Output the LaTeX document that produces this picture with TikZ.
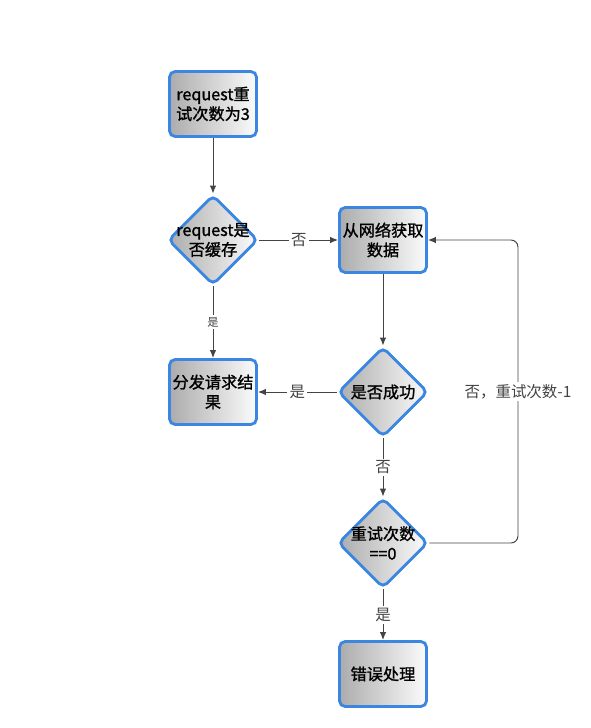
\documentclass[tikz,border=0pt]{standalone}
\usepackage{fontspec}
\setmainfont{Noto Sans CJK SC}
\newfontfamily\heavycjk[FakeBold=1.2]{Noto Sans CJK SC}
\usetikzlibrary{shapes.geometric,arrows.meta}
\definecolor{edgeblue}{HTML}{3A86E0}
\definecolor{linegray}{HTML}{444444}
\tikzset{
  stepbox/.style={rectangle,rounded corners=4pt,draw=edgeblue,line width=2pt,
    left color=gray!65,right color=gray!3,minimum width=2.175cm,minimum height=1.625cm,
    align=center,inner sep=1pt,font=\heavycjk\fontsize{11.5}{14}\selectfont},
  choice/.style={diamond,aspect=1,rounded corners=4pt,draw=edgeblue,line width=2pt,
    left color=gray!65,right color=gray!3,minimum width=2.25cm,minimum height=2.25cm,inner sep=0pt},
  flow/.style={linegray,line width=0.7pt,-{Latex[length=2mm,width=1.6mm]}},
  tag/.style={fill=white,inner sep=1.5pt,font=\fontsize{11}{13}\selectfont},
  dtext/.style={align=center,font=\heavycjk\fontsize{11.5}{14}\selectfont}
}
\begin{document}
\begin{tikzpicture}
\useasboundingbox[fill=white] (0,0) rectangle (14.775,18.2);
\node[stepbox] (init) at (5.325,15.6) {request重\\试次数为3};
\node[choice,label={[dtext]center:request是\\否缓存}] (cache) at (5.325,12.2) {};
\node[stepbox] (fetch) at (9.575,12.2) {从网络获取\\数据};
\node[stepbox] (result) at (5.325,8.4) {分发请求结\\果};
\node[choice,label={[dtext]center:是否成功}] (ok) at (9.575,8.4) {};
\node[choice,label={[dtext]center:重试次数\\==0}] (retry) at (9.575,4.625) {};
\node[stepbox] (fail) at (9.575,1.35) {错误处理};
% connectors
\draw[flow] (init) -- (cache);
\draw[flow] (cache) -- node[tag] {否} (fetch);
\draw[flow] (cache) -- node[tag,font=\fontsize{8}{9}\selectfont] {是} (result);
\draw[flow] (fetch) -- (ok);
\draw[flow] (ok) -- node[tag] {是} (result);
\draw[flow] (ok) -- node[tag] {否} (retry);
\draw[flow] (retry) -- node[tag] {是} (fail);
\draw[flow,rounded corners=5pt] (retry.east) -- (12.95,4.625) -- node[tag] {否，重试次数-1} (12.95,12.2) -- (fetch.east);
\end{tikzpicture}
\end{document}
